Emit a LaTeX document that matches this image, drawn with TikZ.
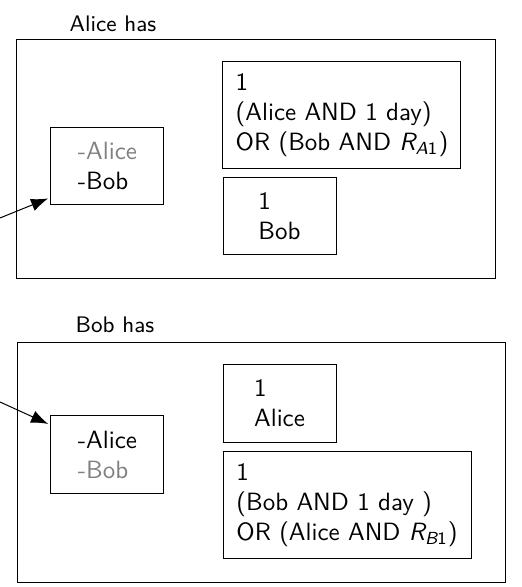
\documentclass[tikz,border=0pt]{standalone}
\usetikzlibrary{arrows.meta}
\tikzset{
	frame/.style={draw},
	wallet/.style={draw, align=left, minimum width=1.589cm, minimum height=1.096cm, font=\sffamily},
	cond/.style={draw, align=left, inner sep=4.8pt, minimum height=1.49cm, font=\sffamily},
	caption/.style={font=\sffamily\small}
}
\newcommand{\keyR}[1]{{\itshape R}\textsubscript{\itshape #1\upshape 1}}
\begin{document}
\begin{tikzpicture}[>={Latex[length=2.4mm,width=1.8mm]}]
	\useasboundingbox (0,0) rectangle (7.339,8.253);
	% Alice
	\node[frame, minimum width=6.734cm, minimum height=3.36cm] (aliceframe) at (3.606,6.024) {};
	\node[caption] (alicecap) at (1.589,7.915) {Alice has};
	\node[wallet] (walleta) at (1.511,5.919) {\textcolor{gray}{-Alice}\\-Bob};
	\node[cond, minimum width=3.346cm] (conda) at (4.808,6.636) {1\\(Alice AND 1 day)\\OR (Bob AND \keyR{A})};
	\node[wallet] (bobone) at (3.930,5.216) {1\\Bob};
	\coordinate (ina) at (0,5.188);
	\draw[->, shorten >=1pt] (ina) -- ([yshift=0.112cm]walleta.south west);
	% Bob
	\node[frame, minimum width=6.861cm, minimum height=3.374cm] (bobframe) at (3.670,1.757) {};
	\node[caption] (bobcap) at (1.617,3.683) {Bob has};
	\node[wallet] (walletb) at (1.511,1.863) {-Alice\\\textcolor{gray}{-Bob}};
	\node[wallet] (aliceone) at (3.930,2.580) {1\\Alice};
	\node[cond, minimum width=3.487cm] (condb) at (4.879,1.153) {1\\(Bob AND 1 day )\\OR (Alice AND \keyR{B})};
	\coordinate (inb) at (0,2.601);
	\draw[->, shorten >=1pt] (inb) -- ([yshift=-0.14cm]walletb.north west);
\end{tikzpicture}
\end{document}
